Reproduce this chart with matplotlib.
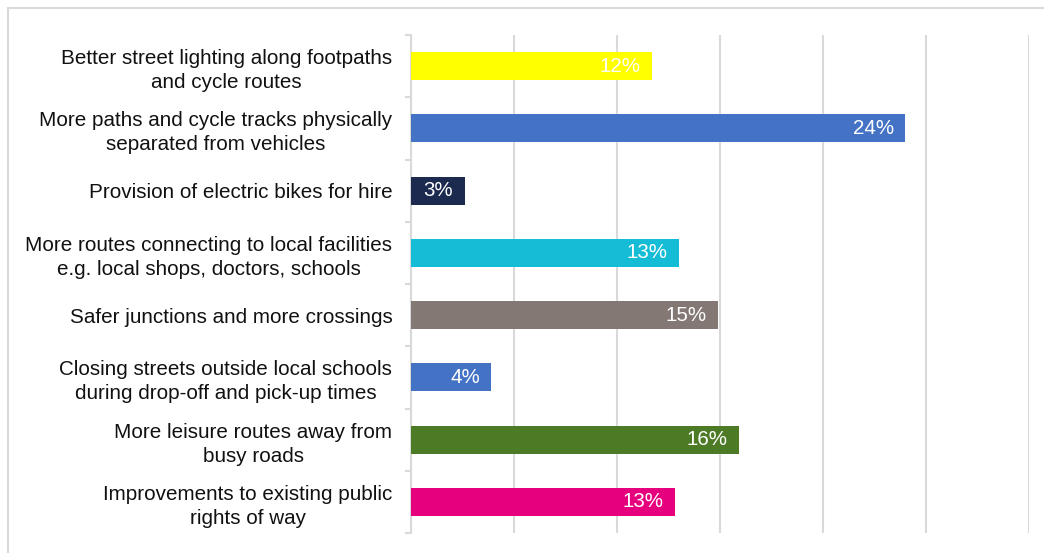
import matplotlib.pyplot as plt
from matplotlib.patches import Rectangle

plt.rcParams['font.family'] = ['Liberation Sans', 'DejaVu Sans']

categories = [
    "Better street lighting along footpaths\nand cycle routes",
    "More paths and cycle tracks physically\nseparated from vehicles",
    "Provision of electric bikes for hire",
    "More routes connecting to local facilities\ne.g. local shops, doctors, schools",
    "Safer junctions and more crossings",
    "Closing streets outside local schools\nduring drop-off and pick-up times",
    "More leisure routes away from\nbusy roads",
    "Improvements to existing public\nrights of way",
]
values = [11.7, 24.0, 2.6, 13.0, 14.9, 3.9, 15.9, 12.8]
labels = ["12%", "24%", "3%", "13%", "15%", "4%", "16%", "13%"]
colors = ["#FFFF00", "#4472C4", "#1B2A4E", "#14BCD6",
          "#847874", "#4472C4", "#4D7B25", "#E6007E"]

fig = plt.figure(figsize=(10.44, 5.53), dpi=100)
ax = fig.add_axes([411 / 1044, 1 - 533 / 553, 618 / 1044, 498 / 553])

pos = list(range(len(categories)))
ax.barh(pos, values, height=0.45, color=colors, zorder=3)
for p, v, lab in zip(pos, values, labels):
    ax.text(v - 0.55, p, lab, ha="right", va="center",
            color="white", fontsize=14.8, zorder=4)

ax.set_xlim(0, 30)
ax.set_ylim(len(categories) - 0.5, -0.5)
ax.set_xticks(range(0, 31, 5))
ax.set_xticklabels([])
ax.tick_params(axis="x", length=0)
ax.grid(axis="x", color="#d9d9d9", lw=1.5, zorder=0)

ax.set_yticks(pos)
ax.set_yticklabels(categories, fontsize=14.9, color="#111111", linespacing=1.33)
for t in ax.get_yticklabels():
    t.set_multialignment("center")
ax.tick_params(axis="y", which="major", length=0, pad=13.5)
ax.set_yticks([p - 0.5 for p in pos] + [len(pos) - 0.5], minor=True)
ax.tick_params(axis="y", which="minor", length=4, color="#d9d9d9", width=1.5)

for s in ["top", "right", "bottom"]:
    ax.spines[s].set_visible(False)
ax.spines["left"].set_color("#d9d9d9")
ax.spines["left"].set_linewidth(1.5)

fig.add_artist(Rectangle((8 / 1044, -0.5), 2, 1.5 - 8 / 553,
                         transform=fig.transFigure, fill=False,
                         ec="#d9d9d9", lw=1.5))

fig.savefig("out.png", dpi=100)
